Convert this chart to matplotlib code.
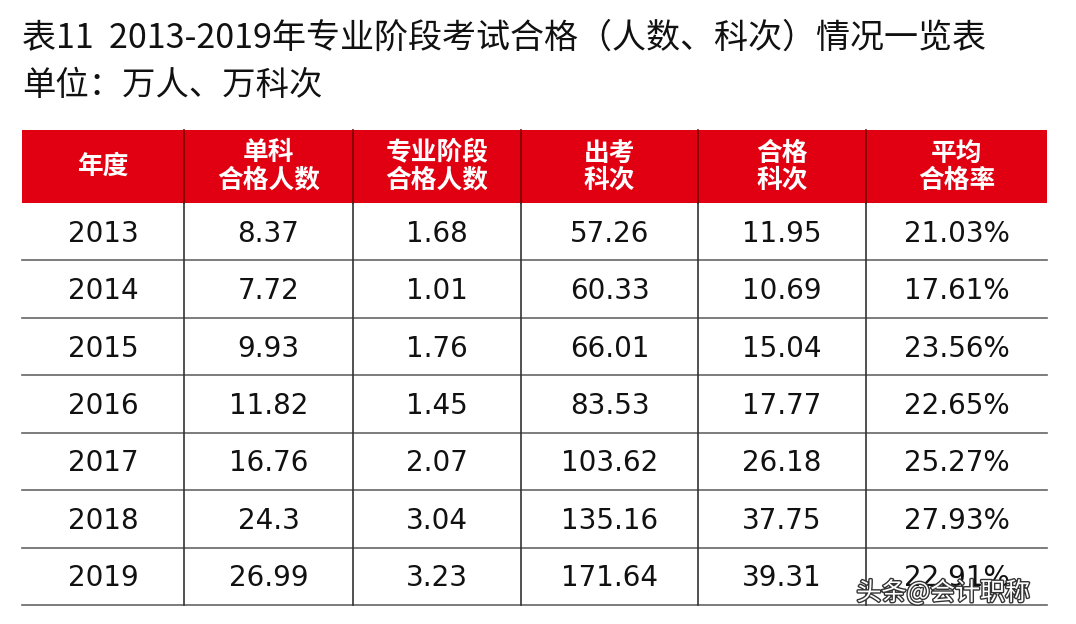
import matplotlib
matplotlib.use("Agg")
import matplotlib.pyplot as plt
import matplotlib.patheffects as pe
from matplotlib.patches import Rectangle

plt.rcParams['font.family'] = ['Noto Sans CJK SC', 'DejaVu Sans']

title = "表11  2013-2019年专业阶段考试合格（人数、科次）情况一览表"
subtitle = "单位：万人、万科次"
headers = ["年度", "单科\n合格人数", "专业阶段\n合格人数", "出考\n科次", "合格\n科次", "平均\n合格率"]
years = ["2013", "2014", "2015", "2016", "2017", "2018", "2019"]
single_pass = ["8.37", "7.72", "9.93", "11.82", "16.76", "24.3", "26.99"]
stage_pass = ["1.68", "1.01", "1.76", "1.45", "2.07", "3.04", "3.23"]
exam_subjects = ["57.26", "60.33", "66.01", "83.53", "103.62", "135.16", "171.64"]
passed_subjects = ["11.95", "10.69", "15.04", "17.77", "26.18", "37.75", "39.31"]
pass_rate = ["21.03%", "17.61%", "23.56%", "22.65%", "25.27%", "27.93%", "22.91%"]
watermark = "头条@会计职称"

W, H = 1076, 624
fig = plt.figure(figsize=(W/100, H/100), dpi=100)
ax = fig.add_axes([0, 0, 1, 1])
ax.set_xlim(0, W); ax.set_ylim(H, 0); ax.axis('off')

col_x = [22, 184, 353, 521, 698, 866, 1047]
head_top, head_bot = 130, 203
row_h = (605 - 203) / 7
red = '#E00012'

ax.text(22, 38, title, fontsize=24.5, va='center', ha='left', color='#111')
ax.text(22, 85, subtitle, fontsize=24, va='center', ha='left', color='#111')

ax.add_patch(Rectangle((col_x[0], head_top), col_x[-1]-col_x[0], head_bot-head_top,
                       facecolor=red, edgecolor='none'))
for x in col_x[1:-1]:
    ax.plot([x, x], [head_top, head_bot], color='#7a0000', lw=1.2)
for i, h in enumerate(headers):
    cx = (col_x[i] + col_x[i+1]) / 2
    ax.text(cx, (head_top+head_bot)/2, h, ha='center', va='center', color='white',
            fontsize=18.5, fontweight='bold', linespacing=1.0)

cols = [years, single_pass, stage_pass, exam_subjects, passed_subjects, pass_rate]
for r in range(len(years)):
    y0 = head_bot + r*row_h
    ax.plot([col_x[0], col_x[-1]], [y0+row_h, y0+row_h], color='#666', lw=1.2)
    for c, vals in enumerate(cols):
        cx = (col_x[c] + col_x[c+1]) / 2
        ax.text(cx, y0 + row_h/2 + 2, vals[r], ha='center', va='center', fontsize=20,
                color='#111', family=['DejaVu Sans'])
for x in col_x[1:-1]:
    ax.plot([x, x], [head_bot, 605], color='#333', lw=1.2)

ax.text(1030, 593, watermark, ha='right', va='center', fontsize=18, color='white',
        path_effects=[pe.withStroke(linewidth=2, foreground='#333')])

fig.savefig("out.png", dpi=100)
